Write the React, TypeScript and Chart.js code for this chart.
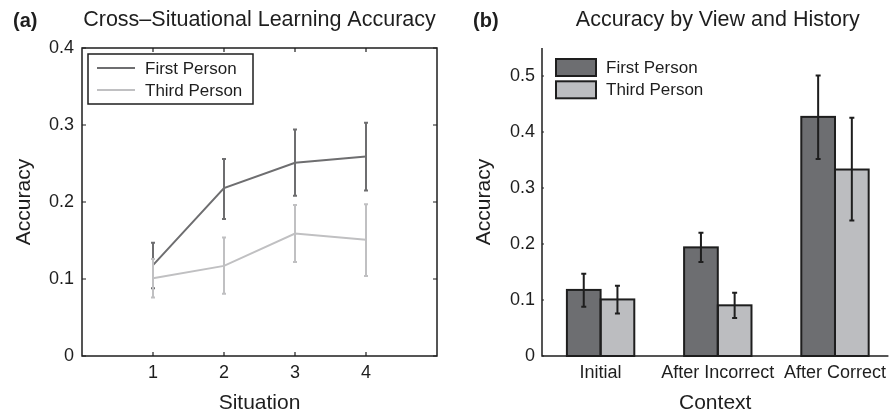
import React, { useEffect, useRef } from "react";
import { Chart, registerables } from "chart.js";
Chart.register(...registerables);

const FONT = '"Liberation Sans", Arial, Helvetica, sans-serif';
const INK = "#1e1e1e";

// Panel (a): line chart
const situations = [1, 2, 3, 4];
const firstPersonLine = [0.118, 0.218, 0.251, 0.259];
const firstPersonLineLow = [0.088, 0.178, 0.208, 0.215];
const firstPersonLineHigh = [0.147, 0.256, 0.294, 0.303];
const thirdPersonLine = [0.101, 0.117, 0.159, 0.151];
const thirdPersonLineLow = [0.076, 0.081, 0.122, 0.104];
const thirdPersonLineHigh = [0.126, 0.154, 0.196, 0.197];
const lineYTicks = [0, 0.1, 0.2, 0.3, 0.4];

// Panel (b): bar chart
const contexts = ["Initial", "After Incorrect", "After Correct"];
const contextPositions = [1, 2, 3];
const firstPersonBar = [0.118, 0.194, 0.427];
const firstPersonBarLow = [0.088, 0.168, 0.352];
const firstPersonBarHigh = [0.147, 0.22, 0.501];
const thirdPersonBar = [0.101, 0.0905, 0.333];
const thirdPersonBarLow = [0.076, 0.068, 0.242];
const thirdPersonBarHigh = [0.1255, 0.113, 0.4255];
const barYTicks = [0, 0.1, 0.2, 0.3, 0.4, 0.5];

const DARK_LINE = "#6e6e70";
const LIGHT_LINE = "#c0c0c2";
const DARK_BAR = "#6d6e71";
const LIGHT_BAR = "#bcbdc0";

const fmt = (v: any) => (Number(v) === 0 ? "0" : Number(v).toFixed(1));

const leftPlugin = {
  id: "leftDecor",
  afterDatasetsDraw(chart: any) {
    const { ctx, scales } = chart;
    const x = scales.x;
    const y = scales.y;
    const series = [
      { low: firstPersonLineLow, high: firstPersonLineHigh, color: DARK_LINE },
      { low: thirdPersonLineLow, high: thirdPersonLineHigh, color: LIGHT_LINE },
    ];
    ctx.save();
    series.forEach((s) => {
      ctx.strokeStyle = s.color;
      ctx.lineWidth = 2;
      situations.forEach((sx, i) => {
        const px = x.getPixelForValue(sx);
        const y1 = y.getPixelForValue(s.low[i]);
        const y2 = y.getPixelForValue(s.high[i]);
        ctx.beginPath();
        ctx.moveTo(px, y1);
        ctx.lineTo(px, y2);
        ctx.moveTo(px - 2, y1);
        ctx.lineTo(px + 2, y1);
        ctx.moveTo(px - 2, y2);
        ctx.lineTo(px + 2, y2);
        ctx.stroke();
      });
    });
    ctx.restore();
  },
  afterDraw(chart: any) {
    const { ctx, chartArea: ca, scales } = chart;
    const x = scales.x;
    const y = scales.y;
    ctx.save();
    // frame
    ctx.strokeStyle = INK;
    ctx.lineWidth = 1.5;
    ctx.strokeRect(ca.left, ca.top, ca.right - ca.left, ca.bottom - ca.top);
    // inward ticks
    ctx.lineWidth = 1.2;
    ctx.beginPath();
    situations.forEach((v) => {
      const px = x.getPixelForValue(v);
      ctx.moveTo(px, ca.bottom);
      ctx.lineTo(px, ca.bottom - 4);
      ctx.moveTo(px, ca.top);
      ctx.lineTo(px, ca.top + 4);
    });
    lineYTicks.forEach((v) => {
      const py = y.getPixelForValue(v);
      ctx.moveTo(ca.left, py);
      ctx.lineTo(ca.left + 4, py);
      ctx.moveTo(ca.right, py);
      ctx.lineTo(ca.right - 4, py);
    });
    ctx.stroke();
    // legend
    const lx = ca.left + 6;
    const ly = ca.top + 6;
    ctx.fillStyle = "#fff";
    ctx.fillRect(lx, ly, 165, 50);
    ctx.strokeStyle = INK;
    ctx.lineWidth = 1.5;
    ctx.strokeRect(lx, ly, 165, 50);
    const items = chart.data.datasets;
    items.forEach((ds: any, i: number) => {
      const yy = ly + 14 + i * 22;
      ctx.strokeStyle = ds.borderColor;
      ctx.lineWidth = 2;
      ctx.beginPath();
      ctx.moveTo(lx + 9, yy);
      ctx.lineTo(lx + 47, yy);
      ctx.stroke();
      ctx.fillStyle = INK;
      ctx.font = `17px ${FONT}`;
      ctx.textAlign = "left";
      ctx.textBaseline = "middle";
      ctx.fillText(ds.label, lx + 57, yy + 1);
    });
    // titles
    ctx.fillStyle = INK;
    ctx.textBaseline = "middle";
    ctx.textAlign = "left";
    ctx.font = `bold 20px ${FONT}`;
    ctx.fillText("(a)", 13, 21);
    ctx.textAlign = "center";
    ctx.font = `21.5px ${FONT}`;
    ctx.fillText("Cross\u2013Situational Learning Accuracy", (ca.left + ca.right) / 2, 20);
    ctx.restore();
  },
};

const rightPlugin = {
  id: "rightDecor",
  afterDatasetsDraw(chart: any) {
    const { ctx, scales } = chart;
    const y = scales.y;
    ctx.save();
    // bar outlines
    chart.data.datasets.forEach((_ds: any, di: number) => {
      const meta = chart.getDatasetMeta(di);
      meta.data.forEach((bar: any) => {
        const w = bar.width;
        ctx.strokeStyle = INK;
        ctx.lineWidth = 2;
        ctx.strokeRect(bar.x - w / 2, bar.y, w, bar.base - bar.y);
      });
    });
    // error bars
    const errs = [
      { low: firstPersonBarLow, high: firstPersonBarHigh },
      { low: thirdPersonBarLow, high: thirdPersonBarHigh },
    ];
    errs.forEach((e, di) => {
      const meta = chart.getDatasetMeta(di);
      meta.data.forEach((bar: any, i: number) => {
        const px = bar.x;
        const y1 = y.getPixelForValue(e.low[i]);
        const y2 = y.getPixelForValue(e.high[i]);
        ctx.strokeStyle = INK;
        ctx.lineWidth = 2;
        ctx.beginPath();
        ctx.moveTo(px, y1);
        ctx.lineTo(px, y2);
        ctx.moveTo(px - 2.5, y1);
        ctx.lineTo(px + 2.5, y1);
        ctx.moveTo(px - 2.5, y2);
        ctx.lineTo(px + 2.5, y2);
        ctx.stroke();
      });
    });
    ctx.restore();
  },
  afterDraw(chart: any) {
    const { ctx, chartArea: ca, scales } = chart;
    const x = scales.x;
    const y = scales.y;
    ctx.save();
    ctx.strokeStyle = INK;
    ctx.lineWidth = 1.5;
    ctx.beginPath();
    ctx.moveTo(ca.left, ca.top);
    ctx.lineTo(ca.left, ca.bottom);
    ctx.lineTo(ca.right, ca.bottom);
    ctx.stroke();
    ctx.lineWidth = 1;
    ctx.beginPath();
    barYTicks.forEach((v) => {
      const py = y.getPixelForValue(v);
      ctx.moveTo(ca.left, py);
      ctx.lineTo(ca.left + 2, py);
    });
    ctx.stroke();
    // legend
    const lx = 110;
    chart.data.datasets.forEach((ds: any, i: number) => {
      const top = 59 + i * 22.3;
      ctx.fillStyle = ds.backgroundColor;
      ctx.fillRect(lx, top, 40, 17);
      ctx.strokeStyle = INK;
      ctx.lineWidth = 2;
      ctx.strokeRect(lx, top, 40, 17);
      ctx.fillStyle = INK;
      ctx.font = `17px ${FONT}`;
      ctx.textAlign = "left";
      ctx.textBaseline = "middle";
      ctx.fillText(ds.label, lx + 50, top + 9.5);
    });
    // titles
    ctx.fillStyle = INK;
    ctx.textBaseline = "middle";
    ctx.textAlign = "left";
    ctx.font = `bold 20px ${FONT}`;
    ctx.fillText("(b)", 27, 21);
    ctx.textAlign = "center";
    ctx.font = `21.5px ${FONT}`;
    ctx.fillText("Accuracy by View and History", x.getPixelForValue(2), 20);
    ctx.restore();
  },
};

const tickFont = { family: FONT, size: 18 };
const titleFont = { family: FONT, size: 21 };

function LeftChart() {
  const ref = useRef<HTMLCanvasElement>(null);
  useEffect(() => {
    if (!ref.current) return;
    const chart = new Chart(ref.current, {
      type: "line",
      data: {
        datasets: [
          {
            label: "First Person",
            data: situations.map((s, i) => ({ x: s, y: firstPersonLine[i] })),
            borderColor: DARK_LINE,
            backgroundColor: DARK_LINE,
            borderWidth: 2,
            pointRadius: 0,
            tension: 0,
          },
          {
            label: "Third Person",
            data: situations.map((s, i) => ({ x: s, y: thirdPersonLine[i] })),
            borderColor: LIGHT_LINE,
            backgroundColor: LIGHT_LINE,
            borderWidth: 2,
            pointRadius: 0,
            tension: 0,
          },
        ],
      },
      options: {
        responsive: false,
        animation: false,
        devicePixelRatio: 1,
        layout: { padding: { top: 48, right: 9, left: 0, bottom: 0 } },
        plugins: { legend: { display: false }, tooltip: { enabled: false }, title: { display: false } },
        scales: {
          x: {
            type: "linear",
            min: 0,
            max: 5,
            afterBuildTicks: (s: any) => {
              s.ticks = situations.map((v) => ({ value: v }));
            },
            afterFit: (s: any) => {
              s.height = 60;
            },
            grid: { display: false, drawTicks: false },
            border: { display: false },
            ticks: { font: tickFont, color: INK, padding: 6, maxRotation: 0, autoSkip: false },
            title: { display: true, text: "Situation", font: titleFont, color: INK, padding: { top: 0, bottom: 0 } },
          },
          y: {
            type: "linear",
            min: 0,
            max: 0.4,
            afterBuildTicks: (s: any) => {
              s.ticks = lineYTicks.map((v) => ({ value: v }));
            },
            afterFit: (s: any) => {
              s.width = 82;
            },
            grid: { display: false, drawTicks: false },
            border: { display: false },
            ticks: { font: tickFont, color: INK, padding: 8, callback: fmt },
            title: { display: true, text: "Accuracy", font: titleFont, color: INK, padding: { top: 12, bottom: 0 } },
          },
        },
      } as any,
      plugins: [leftPlugin],
    });
    return () => chart.destroy();
  }, []);
  return <canvas ref={ref} width={446} height={416} style={{ position: "absolute", left: 0, top: 0 }} />;
}

function RightChart() {
  const ref = useRef<HTMLCanvasElement>(null);
  useEffect(() => {
    if (!ref.current) return;
    const chart = new Chart(ref.current, {
      type: "bar",
      data: {
        datasets: [
          {
            label: "First Person",
            data: contextPositions.map((p, i) => ({ x: p, y: firstPersonBar[i] })),
            backgroundColor: DARK_BAR,
            borderWidth: 0,
          },
          {
            label: "Third Person",
            data: contextPositions.map((p, i) => ({ x: p, y: thirdPersonBar[i] })),
            backgroundColor: LIGHT_BAR,
            borderWidth: 0,
          },
        ],
      },
      options: {
        responsive: false,
        animation: false,
        devicePixelRatio: 1,
        barPercentage: 1,
        categoryPercentage: 0.575,
        layout: { padding: { top: 48, right: 0, left: 0, bottom: 0 } },
        plugins: { legend: { display: false }, tooltip: { enabled: false }, title: { display: false } },
        scales: {
          x: {
            type: "linear",
            offset: false,
            min: 0.5,
            max: 3.456,
            afterBuildTicks: (s: any) => {
              s.ticks = contextPositions.map((v) => ({ value: v }));
            },
            afterFit: (s: any) => {
              s.height = 60;
            },
            grid: { display: false, drawTicks: false, offset: false },
            border: { display: false },
            ticks: {
              font: tickFont,
              color: INK,
              padding: 6,
              maxRotation: 0,
              autoSkip: false,
              callback: (v: any) => contexts[contextPositions.indexOf(Number(v))] ?? "",
            },
            title: { display: true, text: "Context", font: titleFont, color: INK, padding: { top: 0, bottom: 0 } },
          },
          y: {
            type: "linear",
            min: 0,
            max: 0.55,
            afterBuildTicks: (s: any) => {
              s.ticks = barYTicks.map((v) => ({ value: v }));
            },
            afterFit: (s: any) => {
              s.width = 96;
            },
            grid: { display: false, drawTicks: false },
            border: { display: false },
            ticks: { font: tickFont, color: INK, padding: 7, callback: fmt },
            title: { display: true, text: "Accuracy", font: titleFont, color: INK, padding: { top: 26, bottom: 0 } },
          },
        },
      } as any,
      plugins: [rightPlugin],
    });
    return () => chart.destroy();
  }, []);
  return <canvas ref={ref} width={446} height={416} style={{ position: "absolute", left: 446, top: 0 }} />;
}

export default function App() {
  return (
    <div style={{ position: "absolute", left: 0, top: 0, width: 892, height: 416, background: "#fff" }}>
      <LeftChart />
      <RightChart />
    </div>
  );
}
